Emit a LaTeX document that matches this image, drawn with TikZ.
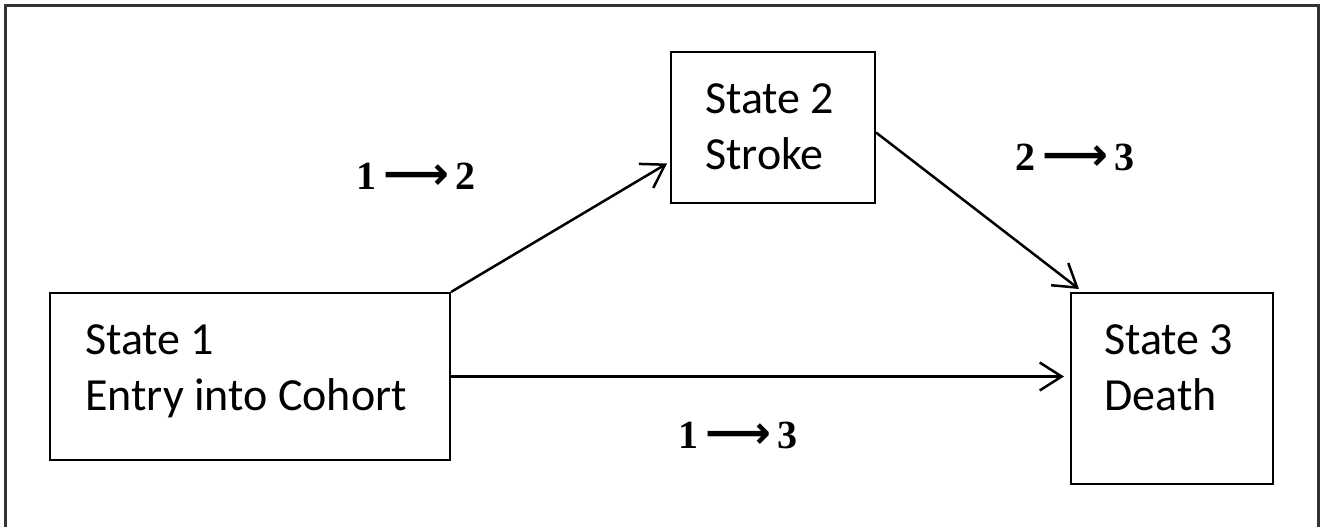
\documentclass[tikz,border=0pt]{standalone}
\usepackage{fontspec}
\setmainfont{Carlito}
\newfontfamily\lblfont{Liberation Serif}
\newfontfamily\arrfont{DejaVu Sans}
\usetikzlibrary{arrows.meta,calc}
\definecolor{framegray}{HTML}{333333}
\tikzset{
  statebox/.style={draw=black, line width=2pt, rectangle, inner sep=0pt},
  statetext/.style={anchor=north west, align=left, inner sep=0pt,
    font=\fontsize{46}{56}\selectfont},
  trans/.style={line width=2.5pt, -{Straight Barb[length=22pt,width=28pt]}},
  translabel/.style={font=\lblfont\bfseries\fontsize{40}{48}\selectfont, inner sep=0pt}
}
\newcommand{\larr}{\hspace{7pt}{\arrfont\bfseries\fontsize{46}{50}\selectfont ⟶}\hspace{7pt}}
\begin{document}
\begin{tikzpicture}[x=1pt,y=-1pt]
\useasboundingbox (0,0) rectangle (1329,527);
\draw[framegray, line width=3pt] (5,527) -- (5,6) -- (1318,6) -- (1318,527);
% boxes
\node[statebox, minimum width=400, minimum height=167] (s1) at (250,376.5) {};
\node[statebox, minimum width=204, minimum height=151] (s2) at (773,127.5) {};
\node[statebox, minimum width=202, minimum height=191] (s3) at (1172,388.5) {};
% texts
\node[statetext] (t1) at (85,324) {State 1\\Entry into Cohort};
\node[statetext] (t2) at (705,83) {State 2\\Stroke};
\node[statetext] (t3) at (1104,324) {State 3\\Death};
% connectors
\coordinate (e12) at ($(s2.west)+(-3,36)$);
\coordinate (e13) at ($(s1.east -| s3.west)+(-6,0)$);
\coordinate (s23) at ($(s2.east)+(0,5)$);
\coordinate (e23) at ($(s3.north west)+(9,-3)$);
\draw[trans] (s1.north east) -- (e12);
\draw[trans] (s23) -- (e23);
\draw[trans] (s1.east) -- (e13);
% labels
\node[translabel] (l12) at (416,176) {1\larr2};
\node[translabel] (l23) at (1075,157) {2\larr3};
\node[translabel] (l13) at (738,435) {1\larr3};
\end{tikzpicture}
\end{document}
